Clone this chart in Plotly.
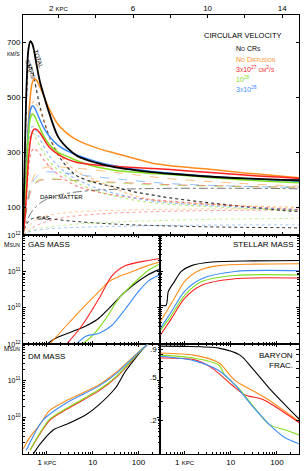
import plotly.graph_objects as go
import numpy as np

# ---------------- data ----------------
models = ["No CRs", "No Diffusion", "3x10^27", "10^28", "3x10^28"]
colors = ["#000000", "#ff8c1a", "#ff2020", "#80e020", "#3a8cff"]

# circular velocity panel (linear radius, kpc)
r_v = [0.1, 0.2, 0.3, 0.4, 0.5, 0.6, 0.7, 0.8, 1.0, 1.25, 1.5, 2, 2.5, 3, 4, 5, 6, 7, 8, 10, 12, 14, 15]
v_tot_black = [0, 300, 560, 680, 705, 695, 668, 630, 560, 500, 445, 355, 315, 288, 263, 247, 237, 229, 223, 213, 206, 201, 199]
v_tot_orange = [0, 110, 280, 420, 510, 555, 568, 565, 540, 500, 460, 400, 368, 345, 318, 298, 280, 262, 252, 240, 226, 214, 208]
v_tot_red = [0, 60, 170, 280, 345, 375, 385, 385, 372, 345, 320, 292, 275, 264, 255, 250, 246, 242, 238, 228, 218, 210, 205]
v_tot_green = [0, 100, 250, 370, 425, 440, 435, 422, 390, 355, 330, 300, 285, 270, 248, 236, 229, 224, 220, 210, 200, 193, 190]
v_tot_blue = [0, 110, 270, 400, 455, 470, 465, 452, 420, 385, 360, 325, 305, 290, 268, 252, 240, 231, 225, 214, 205, 198, 194]

v_star_black = [0, 280, 520, 610, 620, 600, 570, 535, 470, 410, 360, 290, 245, 215, 190, 175, 158, 146, 135, 118, 103, 90, 85]
v_star_orange = [0, 100, 260, 380, 450, 480, 485, 478, 455, 410, 360, 300, 260, 230, 200, 170, 145, 128, 120, 112, 106, 102, 100]
v_star_red = [0, 50, 150, 240, 290, 310, 315, 310, 295, 270, 250, 220, 195, 178, 158, 145, 136, 129, 123, 113, 104, 96, 92]
v_star_green = [0, 90, 225, 320, 360, 370, 365, 352, 325, 295, 270, 235, 210, 190, 162, 142, 128, 118, 112, 104, 97, 91, 88]
v_star_blue = [0, 95, 240, 340, 385, 395, 390, 378, 350, 318, 290, 250, 222, 202, 172, 152, 136, 124, 117, 108, 101, 95, 92]

v_dm_black = [0, 30, 50, 65, 78, 88, 96, 103, 115, 126, 134, 145, 152, 157, 163, 166, 168, 169, 170, 170, 170, 169, 168]
v_dm_orange = [0, 60, 110, 150, 180, 200, 215, 225, 238, 245, 248, 248, 246, 243, 236, 228, 220, 212, 205, 195, 187, 180, 177]
v_dm_red = [0, 50, 95, 130, 155, 172, 183, 190, 198, 202, 203, 202, 200, 198, 195, 192, 189, 186, 183, 180, 177, 175, 174]
v_dm_green = [0, 55, 100, 138, 162, 178, 188, 195, 202, 205, 205, 203, 200, 197, 193, 189, 186, 183, 181, 178, 176, 174, 173]
v_dm_blue = [0, 58, 105, 145, 172, 190, 202, 210, 222, 228, 230, 228, 224, 220, 212, 205, 198, 192, 187, 181, 177, 174, 173]

v_gas_black = [0, 25, 40, 50, 56, 60, 62, 63, 63, 62, 60, 56, 52, 49, 44, 40, 37, 35, 33, 30, 28, 27, 26]
v_gas_orange = [0, 10, 20, 30, 38, 45, 50, 55, 62, 68, 72, 78, 82, 85, 88, 90, 92, 93, 94, 95, 95, 95, 95]
v_gas_red = [0, 5, 10, 15, 20, 25, 30, 34, 40, 47, 52, 60, 66, 70, 76, 80, 83, 85, 87, 89, 90, 91, 91]
v_gas_green = [0, 4, 8, 12, 15, 18, 20, 22, 25, 28, 30, 34, 37, 40, 44, 47, 50, 52, 54, 57, 59, 60, 61]
v_gas_blue = [0, 4, 7, 10, 12, 14, 16, 17, 19, 21, 23, 25, 27, 28, 30, 32, 33, 34, 35, 36, 37, 37, 37]

# cumulative gas mass (log r, log M)
gas_lr_black = [0.0, 0.2, 0.56, 0.85, 1.14, 1.35, 1.72, 2.2, 2.45]
gas_lm_black = [9.0, 9.17, 9.35, 9.5, 9.72, 9.98, 10.45, 10.9, 11.05]
gas_lr_orange = [0.06, 0.43, 0.77, 1.14, 1.35, 1.57, 1.85, 2.2, 2.45]
gas_lm_orange = [9.0, 9.52, 9.98, 10.45, 10.72, 10.86, 10.99, 11.16, 11.25]
gas_lr_red = [0.43, 0.77, 1.14, 1.42, 1.72, 2.2, 2.45]
gas_lm_red = [9.0, 9.52, 10.26, 10.88, 11.16, 11.3, 11.35]
gas_lr_green = [0.77, 1.0, 1.29, 1.57, 1.85, 2.2, 2.45]
gas_lm_green = [9.0, 9.24, 9.71, 10.26, 10.62, 11.02, 11.2]
gas_lr_blue = [0.64, 0.85, 1.14, 1.42, 1.72, 2.0, 2.2, 2.45]
gas_lm_blue = [9.0, 9.22, 9.3, 9.52, 9.98, 10.45, 10.72, 10.9]

# cumulative stellar mass
st_lr_black = [-0.52, -0.4, -0.35, -0.22, -0.07, 0.15, 0.59, 1.5, 2.5]
st_lm_black = [10.07, 10.07, 10.45, 10.72, 11.0, 11.16, 11.26, 11.29, 11.3]
st_lr_orange = [-0.52, -0.35, -0.22, 0.0, 0.3, 0.74, 1.5, 2.5]
st_lm_orange = [9.63, 9.98, 10.26, 10.72, 11.02, 11.16, 11.2, 11.21]
st_lr_red = [-0.52, -0.28, 0.0, 0.37, 1.09, 2.5]
st_lm_red = [9.25, 9.71, 10.26, 10.62, 10.8, 10.82]
st_lr_green = [-0.52, -0.28, 0.0, 0.37, 1.09, 2.5]
st_lm_green = [9.38, 9.8, 10.34, 10.72, 10.89, 10.9]
st_lr_blue = [-0.52, -0.28, 0.0, 0.37, 1.09, 2.5]
st_lm_blue = [9.44, 9.9, 10.45, 10.8, 11.0, 11.02]

# cumulative dark matter mass
dm_lr_black = [-0.3, -0.15, 0.13, 0.43, 0.86, 1.14, 1.5, 1.72, 2.2, 2.45]
dm_lm_black = [9.0, 9.27, 9.65, 9.81, 10.08, 10.35, 10.81, 11.27, 12.0, 12.2]
dm_lr_orange = [-0.52, -0.37, -0.15, 0.06, 0.43, 1.14, 1.5, 2.2, 2.45]
dm_lm_orange = [9.14, 9.46, 9.81, 10.19, 10.46, 10.89, 11.22, 12.0, 12.2]
dm_lr_red = [-0.37, 0.06, 0.43, 1.14, 1.5, 2.2, 2.45]
dm_lm_red = [9.1, 9.92, 10.22, 10.73, 11.08, 12.0, 12.2]
dm_lr_green = [-0.37, 0.06, 0.43, 1.14, 1.5, 2.2, 2.45]
dm_lm_green = [9.1, 9.95, 10.25, 10.76, 11.1, 12.0, 12.2]
dm_lr_blue = [-0.45, -0.09, 0.43, 1.14, 1.5, 2.2, 2.45]
dm_lm_blue = [9.1, 9.92, 10.4, 10.86, 11.18, 12.0, 12.2]

# baryon fraction (log r, log f)
bf_lr_black = [-0.52, 0.0, 0.74, 1.2, 1.46, 1.83, 2.17, 2.5]
bf_lf_black = [-0.018, -0.02, -0.036, -0.1, -0.216, -0.40, -0.55, -0.69]
bf_lr_orange = [-0.52, 0.2, 0.74, 1.09, 1.46, 1.83, 2.5]
bf_lf_orange = [-0.08, -0.1, -0.17, -0.33, -0.42, -0.51, -0.71]
bf_lr_red = [-0.52, 0.2, 0.59, 1.02, 1.3, 1.67, 1.89, 2.5]
bf_lf_red = [-0.126, -0.14, -0.216, -0.37, -0.46, -0.50, -0.55, -0.72]
bf_lr_green = [-0.52, 0.2, 0.74, 0.87, 1.17, 1.46, 1.83, 2.17, 2.5]
bf_lf_green = [-0.1, -0.126, -0.19, -0.28, -0.40, -0.55, -0.73, -0.78, -0.83]
bf_lr_blue = [-0.52, 0.2, 0.74, 1.09, 1.46, 1.83, 2.17, 2.5]
bf_lf_blue = [-0.11, -0.15, -0.24, -0.37, -0.56, -0.73, -0.85, -0.91]
bf_tick_vals = [0.2, 0.5, 0.9]
bf_tick_text = [".2", ".5", ".9"]

# ---------------- figure ----------------
fig = go.Figure()
FONT = "Liberation Sans"

vel = {
    "tot": [v_tot_black, v_tot_orange, v_tot_red, v_tot_green, v_tot_blue],
    "star": [v_star_black, v_star_orange, v_star_red, v_star_green, v_star_blue],
    "dm": [v_dm_black, v_dm_orange, v_dm_red, v_dm_green, v_dm_blue],
    "gas": [v_gas_black, v_gas_orange, v_gas_red, v_gas_green, v_gas_blue],
}
comp_style = {
    "dm": dict(dash="dash", width=1, op=0.55),
    "star": dict(dash="dot", width=1.2, op=0.55),
    "gas": dict(dash="dot", width=1, op=0.45),
}
for comp in ["gas", "dm", "star"]:
    st = comp_style[comp]
    for i in range(5):
        c = colors[i]
        dash = st["dash"]
        if comp == "dm" and i == 0:
            c = "#555555"; dash = "dashdot"
        fig.add_trace(go.Scatter(x=r_v, y=vel[comp][i], mode="lines", line=dict(color=c, width=st["width"], dash=dash, shape="spline"),
                                 opacity=st["op"] if i else 0.8, xaxis="x", yaxis="y", showlegend=False, hoverinfo="skip"))
order = [1, 4, 3, 2, 0]
for i in order:
    fig.add_trace(go.Scatter(x=r_v, y=vel["tot"][i], mode="lines", line=dict(color=colors[i], width=1.8 if i == 0 else 1.5, shape="spline"),
                             xaxis="x", yaxis="y", showlegend=False, hoverinfo="skip"))

def add_log(lr, lm, col, xa, ya):
    x = [10 ** v for v in lr]
    y = [10 ** v for v in lm]
    fig.add_trace(go.Scatter(x=x, y=y, mode="lines", line=dict(color=col, width=1.1, shape="spline", smoothing=0.8),
                             xaxis=xa, yaxis=ya, showlegend=False, hoverinfo="skip"))

gas = [(gas_lr_black, gas_lm_black), (gas_lr_orange, gas_lm_orange), (gas_lr_red, gas_lm_red), (gas_lr_green, gas_lm_green), (gas_lr_blue, gas_lm_blue)]
st = [(st_lr_black, st_lm_black), (st_lr_orange, st_lm_orange), (st_lr_red, st_lm_red), (st_lr_green, st_lm_green), (st_lr_blue, st_lm_blue)]
dm = [(dm_lr_black, dm_lm_black), (dm_lr_orange, dm_lm_orange), (dm_lr_red, dm_lm_red), (dm_lr_green, dm_lm_green), (dm_lr_blue, dm_lm_blue)]
bf = [(bf_lr_black, bf_lf_black), (bf_lr_orange, bf_lf_orange), (bf_lr_red, bf_lf_red), (bf_lr_green, bf_lf_green), (bf_lr_blue, bf_lf_blue)]
for i in range(5):
    add_log(*gas[i], colors[i], "x2", "y2")
    add_log(*st[i], colors[i], "x3", "y3")
    add_log(*dm[i], colors[i], "x4", "y4")
    add_log(*bf[i], colors[i], "x5", "y5")

# ---------------- axes ----------------
Y_TOP = [0.4987, 1.0]
Y_MID = [0.2502, 0.4987]
Y_BOT = [0.0, 0.2502]
X_L = [0.0, 0.4977]
X_R = [0.4977, 1.0]
tf = dict(family=FONT, size=8, color="black")
base = dict(showline=True, linecolor="black", linewidth=1, mirror="ticks", ticks="inside", ticklen=3,
            tickcolor="black", showgrid=False, zeroline=False, tickfont=tf)

logx_minor = [m * 10 ** e for e in [-1, 0, 1, 2] for m in range(2, 10) if 0.3 <= m * 10 ** e <= 300]
logy_minor = [m * 10 ** e for e in [9, 10, 11] for m in range(2, 10)]

def logx(domain, anchor, labels):
    d = dict(base, type="log", domain=domain, anchor=anchor, range=[np.log10(0.3), np.log10(300)],
             tickvals=[1, 10, 100], ticktext=["1 kpc", "10", "100"], showticklabels=labels,
             minor=dict(ticks="inside", ticklen=2, tickvals=logx_minor, tickcolor="black"))
    d["tickfont"] = dict(family=FONT, size=8, color="black", variant="small-caps")
    return d

def logy_mass(domain, anchor, labels):
    return dict(base, type="log", domain=domain, anchor=anchor, range=[9, 12],
                tickvals=[1e10, 1e11, 1e12], ticktext=["10<sup>10</sup>", "10<sup>11</sup>", "10<sup>12</sup>"],
                showticklabels=labels, tickfont=dict(family=FONT, size=7, color="black"),
                minor=dict(ticks="inside", ticklen=2, tickvals=logy_minor, tickcolor="black"))

fig.update_layout(
    width=304, height=471, margin=dict(l=23, r=4, t=13, b=14),
    paper_bgcolor="white", plot_bgcolor="white",
    xaxis=dict(base, domain=[0, 1], anchor="y", range=[0.1, 14.9], side="top",
               tickvals=[2, 4, 6, 8, 10, 12, 14], ticktext=["2 kpc", "", "6", "", "10", "", "14"],
               tickfont=dict(family=FONT, size=8, color="black", variant="small-caps")),
    yaxis=dict(base, domain=Y_TOP, anchor="x", range=[0, 800], tickvals=[100, 300, 500, 700],
               ticktext=["100", "300", "500", "700"]),
    xaxis2=logx(X_L, "y2", False),
    yaxis2=logy_mass(Y_MID, "x2", True),
    xaxis3=logx(X_R, "y3", False),
    yaxis3=logy_mass(Y_MID, "x3", False),
    xaxis4=logx(X_L, "y4", True),
    yaxis4=logy_mass(Y_BOT, "x4", True),
    xaxis5=logx(X_R, "y5", True),
    yaxis5=dict(base, type="log", domain=Y_BOT, anchor="x5", range=[-1, 0],
                tickvals=bf_tick_vals, showticklabels=False,
                minor=dict(ticks="inside", ticklen=3, tickvals=[0.1, 0.3, 0.4, 0.6, 0.7, 0.8, 1.0], tickcolor="black")),
)

# baryon-fraction tick labels (drawn left of the divider)
for v, t in zip(bf_tick_vals, bf_tick_text):
    fig.add_annotation(text=t, x=X_R[0] - 0.004, xref="paper", y=np.log10(v), yref="y5", xanchor="right",
                       yanchor="middle", showarrow=False, font=dict(family=FONT, size=8, color="black"))

# ---------------- annotations ----------------
def ann(text, x, y, xanchor="left", size=7.5, color="black", angle=0, variant="small-caps", yanchor="middle"):
    fig.add_annotation(text=text, x=x, y=y, xref="paper", yref="paper", xanchor=xanchor, yanchor=yanchor,
                       showarrow=False, textangle=angle,
                       font=dict(family=FONT, size=size, color=color, variant=variant))

W, H, L, T = 277.0, 444.0, 23.0, 13.0
def px(xp):
    return (xp - L) / W
def py(yp):
    return 1 - (yp - T) / H

for yy in (46, 245, 356):
    fig.add_annotation(text="Msun" if yy > 100 else "km/s", x=-0.005, y=py(yy), xref="paper", yref="paper",
                       xanchor="right", showarrow=False,
                       font=dict(family=FONT, size=6.5, color="black", variant="small-caps"))

ann("CIRCULAR VELOCITY", px(285), py(34), xanchor="right", size=7.5)
ann("No CRs", px(235), py(47), size=7, color=colors[0])
ann("No Diffusion", px(235), py(58), size=7, color=colors[1])
ann("3x10<sup>27</sup> cm<sup>2</sup>/s", px(235), py(68), size=7, color=colors[2])
ann("10<sup>28</sup>", px(235), py(78), size=7, color=colors[3])
ann("3x10<sup>28</sup>", px(235), py(88), size=7, color=colors[4])
ann("TOTAL", px(38), py(58), xanchor="center", size=6, angle=72)
ann("STARS", px(30), py(68), xanchor="center", size=6, angle=72)
ann("DARK MATTER", px(62), py(197), xanchor="center", size=6)
ann("GAS", px(44), py(218), xanchor="center", size=6)
ann("GAS MASS", px(26), py(245.5), size=8)
ann("STELLAR MASS", px(296), py(245.5), xanchor="right", size=8)
ann("DM MASS", px(26), py(358), size=8)
ann("BARYON", px(296), py(357), xanchor="right", size=8)
ann("FRAC.", px(296), py(367), xanchor="right", size=8)

fig.write_html("out.html", config={"displayModeBar": False, "staticPlot": True},
               post_script="document.body.style.margin='0';document.body.style.padding='0';")
